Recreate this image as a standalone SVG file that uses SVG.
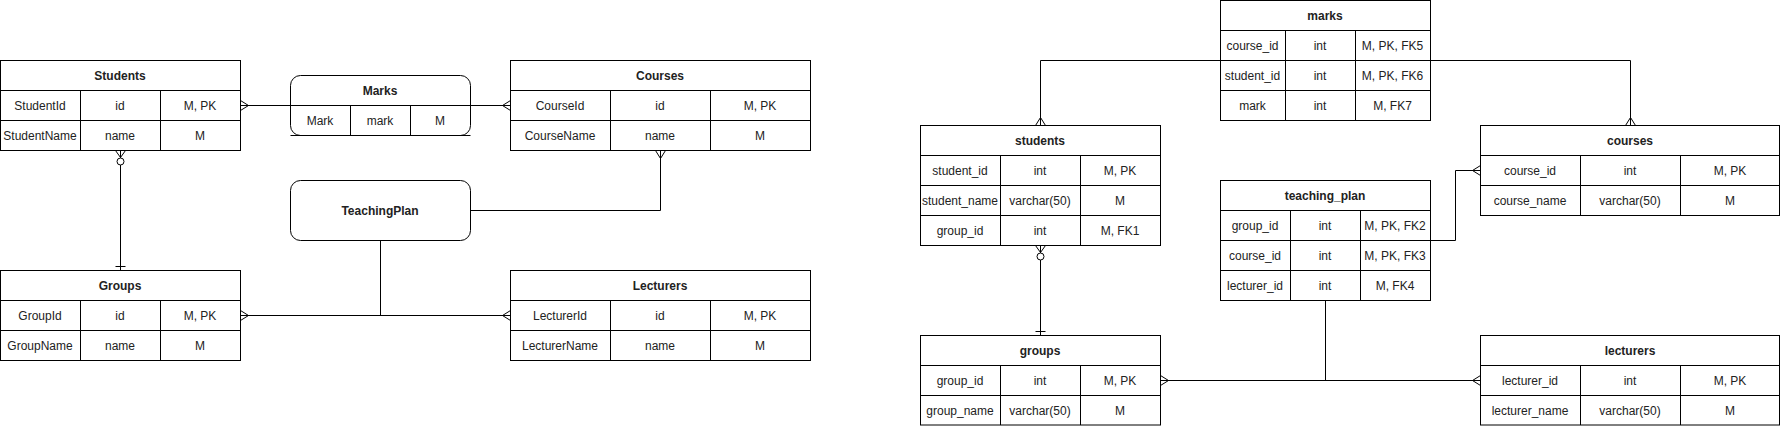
<svg xmlns="http://www.w3.org/2000/svg" width="1781" height="426" viewBox="0 0 1781 426">
<style>
.box{fill:#fff;stroke:#000;stroke-width:1}
.ln{fill:none;stroke:#000;stroke-width:1}
.t{font-family:"Liberation Sans",Arial,sans-serif;font-size:12px;fill:#222;text-anchor:middle}
.h{font-weight:bold}
.c{fill:#fff;stroke:#000;stroke-width:1}
</style>
<rect width="1781" height="426" fill="#fff"/>

<g id="connectors">
  <path class="ln" d="M240.5,105.5 H290.5"/>
  <path class="ln" d="M240.5,100.5 L248.5,105.5 L240.5,110.5"/>
  <path class="ln" d="M470.5,105.5 H510.5"/>
  <path class="ln" d="M510.5,100.5 L502.5,105.5 L510.5,110.5"/>
  <path class="ln" d="M470.5,210.5 H660.5 V150.5"/>
  <path class="ln" d="M655.5,150.5 L660.5,158.5 L665.5,150.5"/>
  <path class="ln" d="M120.5,150.5 V270.5"/>
  <path class="ln" d="M115.5,150.5 L120.5,157.5 L125.5,150.5"/>
  <circle class="c" cx="120.5" cy="161.5" r="3.5"/>
  <path class="ln" d="M115.5,266.5 H125.5"/>
  <path class="ln" d="M240.5,315.5 H510.5"/>
  <path class="ln" d="M240.5,310.5 L248.5,315.5 L240.5,320.5"/>
  <path class="ln" d="M510.5,310.5 L502.5,315.5 L510.5,320.5"/>
  <path class="ln" d="M380.5,240.5 V315.5"/>
  <path class="ln" d="M1220.5,60.5 H1040.5 V125.5"/>
  <path class="ln" d="M1035.5,125.5 L1040.5,117.5 L1045.5,125.5"/>
  <path class="ln" d="M1430.5,60.5 H1630.5 V125.5"/>
  <path class="ln" d="M1625.5,125.5 L1630.5,117.5 L1635.5,125.5"/>
  <path class="ln" d="M1430.5,240.5 H1455.5 V170.5 H1480.5"/>
  <path class="ln" d="M1480.5,165.5 L1472.5,170.5 L1480.5,175.5"/>
  <path class="ln" d="M1040.5,245.5 V335.5"/>
  <path class="ln" d="M1035.5,245.5 L1040.5,252.5 L1045.5,245.5"/>
  <circle class="c" cx="1040.5" cy="256.5" r="3.5"/>
  <path class="ln" d="M1035.5,331.5 H1045.5"/>
  <path class="ln" d="M1160.5,380.5 H1480.5"/>
  <path class="ln" d="M1160.5,375.5 L1168.5,380.5 L1160.5,385.5"/>
  <path class="ln" d="M1480.5,375.5 L1472.5,380.5 L1480.5,385.5"/>
  <path class="ln" d="M1325.5,300.5 V380.5"/>
</g>

<g id="Students">
  <rect class="box" x="0.5" y="60.5" width="240" height="90"/>
  <path class="ln" d="M0.5,90.5 H240.5 M0.5,120.5 H240.5 M80.5,90.5 V150.5 M160.5,90.5 V150.5"/>
  <text class="t h" x="120" y="80">Students</text>
  <text class="t" x="40" y="110">StudentId</text>
  <text class="t" x="120" y="110">id</text>
  <text class="t" x="200" y="110">M, PK</text>
  <text class="t" x="40" y="140">StudentName</text>
  <text class="t" x="120" y="140">name</text>
  <text class="t" x="200" y="140">M</text>
</g>

<g id="Marks">
  <rect class="box" x="290.5" y="75.5" width="180" height="60" rx="10" ry="10"/>
  <path class="ln" d="M290.5,105.5 H470.5 M290.5,135.5 H470.5 M350.5,105.5 V135.5 M410.5,105.5 V135.5"/>
  <text class="t h" x="380" y="95">Marks</text>
  <text class="t" x="320" y="125">Mark</text>
  <text class="t" x="380" y="125">mark</text>
  <text class="t" x="440" y="125">M</text>
</g>

<g id="Courses">
  <rect class="box" x="510.5" y="60.5" width="300" height="90"/>
  <path class="ln" d="M510.5,90.5 H810.5 M510.5,120.5 H810.5 M610.5,90.5 V150.5 M710.5,90.5 V150.5"/>
  <text class="t h" x="660" y="80">Courses</text>
  <text class="t" x="560" y="110">CourseId</text>
  <text class="t" x="660" y="110">id</text>
  <text class="t" x="760" y="110">M, PK</text>
  <text class="t" x="560" y="140">CourseName</text>
  <text class="t" x="660" y="140">name</text>
  <text class="t" x="760" y="140">M</text>
</g>

<g id="TeachingPlan">
  <rect class="box" x="290.5" y="180.5" width="180" height="60" rx="10" ry="10"/>
  <text class="t h" x="380" y="215">TeachingPlan</text>
</g>

<g id="Groups">
  <rect class="box" x="0.5" y="270.5" width="240" height="90"/>
  <path class="ln" d="M0.5,300.5 H240.5 M0.5,330.5 H240.5 M80.5,300.5 V360.5 M160.5,300.5 V360.5"/>
  <text class="t h" x="120" y="290">Groups</text>
  <text class="t" x="40" y="320">GroupId</text>
  <text class="t" x="120" y="320">id</text>
  <text class="t" x="200" y="320">M, PK</text>
  <text class="t" x="40" y="350">GroupName</text>
  <text class="t" x="120" y="350">name</text>
  <text class="t" x="200" y="350">M</text>
</g>

<g id="Lecturers">
  <rect class="box" x="510.5" y="270.5" width="300" height="90"/>
  <path class="ln" d="M510.5,300.5 H810.5 M510.5,330.5 H810.5 M610.5,300.5 V360.5 M710.5,300.5 V360.5"/>
  <text class="t h" x="660" y="290">Lecturers</text>
  <text class="t" x="560" y="320">LecturerId</text>
  <text class="t" x="660" y="320">id</text>
  <text class="t" x="760" y="320">M, PK</text>
  <text class="t" x="560" y="350">LecturerName</text>
  <text class="t" x="660" y="350">name</text>
  <text class="t" x="760" y="350">M</text>
</g>

<g id="marks">
  <rect class="box" x="1220.5" y="0.5" width="210" height="120"/>
  <path class="ln" d="M1220.5,30.5 H1430.5 M1220.5,60.5 H1430.5 M1220.5,90.5 H1430.5 M1285.5,30.5 V120.5 M1355.5,30.5 V120.5"/>
  <text class="t h" x="1325" y="20">marks</text>
  <text class="t" x="1252.5" y="50">course_id</text>
  <text class="t" x="1320" y="50">int</text>
  <text class="t" x="1392.5" y="50">M, PK, FK5</text>
  <text class="t" x="1252.5" y="80">student_id</text>
  <text class="t" x="1320" y="80">int</text>
  <text class="t" x="1392.5" y="80">M, PK, FK6</text>
  <text class="t" x="1252.5" y="110">mark</text>
  <text class="t" x="1320" y="110">int</text>
  <text class="t" x="1392.5" y="110">M, FK7</text>
</g>

<g id="students">
  <rect class="box" x="920.5" y="125.5" width="240" height="120"/>
  <path class="ln" d="M920.5,155.5 H1160.5 M920.5,185.5 H1160.5 M920.5,215.5 H1160.5 M1000.5,155.5 V245.5 M1080.5,155.5 V245.5"/>
  <text class="t h" x="1040" y="145">students</text>
  <text class="t" x="960" y="175">student_id</text>
  <text class="t" x="1040" y="175">int</text>
  <text class="t" x="1120" y="175">M, PK</text>
  <text class="t" x="960" y="205">student_name</text>
  <text class="t" x="1040" y="205">varchar(50)</text>
  <text class="t" x="1120" y="205">M</text>
  <text class="t" x="960" y="235">group_id</text>
  <text class="t" x="1040" y="235">int</text>
  <text class="t" x="1120" y="235">M, FK1</text>
</g>

<g id="courses">
  <rect class="box" x="1480.5" y="125.5" width="299" height="90"/>
  <path class="ln" d="M1480.5,155.5 H1779.5 M1480.5,185.5 H1779.5 M1580.5,155.5 V215.5 M1680.5,155.5 V215.5"/>
  <text class="t h" x="1630" y="145">courses</text>
  <text class="t" x="1530" y="175">course_id</text>
  <text class="t" x="1630" y="175">int</text>
  <text class="t" x="1730" y="175">M, PK</text>
  <text class="t" x="1530" y="205">course_name</text>
  <text class="t" x="1630" y="205">varchar(50)</text>
  <text class="t" x="1730" y="205">M</text>
</g>

<g id="teaching_plan">
  <rect class="box" x="1220.5" y="180.5" width="210" height="120"/>
  <path class="ln" d="M1220.5,210.5 H1430.5 M1220.5,240.5 H1430.5 M1220.5,270.5 H1430.5 M1290.5,210.5 V300.5 M1360.5,210.5 V300.5"/>
  <text class="t h" x="1325" y="200">teaching_plan</text>
  <text class="t" x="1255" y="230">group_id</text>
  <text class="t" x="1325" y="230">int</text>
  <text class="t" x="1395" y="230">M, PK, FK2</text>
  <text class="t" x="1255" y="260">course_id</text>
  <text class="t" x="1325" y="260">int</text>
  <text class="t" x="1395" y="260">M, PK, FK3</text>
  <text class="t" x="1255" y="290">lecturer_id</text>
  <text class="t" x="1325" y="290">int</text>
  <text class="t" x="1395" y="290">M, FK4</text>
</g>

<g id="groups">
  <rect class="box" x="920.5" y="335.5" width="240" height="89.5"/>
  <path class="ln" d="M920.5,365.5 H1160.5 M920.5,395.5 H1160.5 M1000.5,365.5 V425 M1080.5,365.5 V425"/>
  <text class="t h" x="1040" y="355">groups</text>
  <text class="t" x="960" y="385">group_id</text>
  <text class="t" x="1040" y="385">int</text>
  <text class="t" x="1120" y="385">M, PK</text>
  <text class="t" x="960" y="415">group_name</text>
  <text class="t" x="1040" y="415">varchar(50)</text>
  <text class="t" x="1120" y="415">M</text>
</g>

<g id="lecturers">
  <rect class="box" x="1480.5" y="335.5" width="299" height="89.5"/>
  <path class="ln" d="M1480.5,365.5 H1779.5 M1480.5,395.5 H1779.5 M1580.5,365.5 V425 M1680.5,365.5 V425"/>
  <text class="t h" x="1630" y="355">lecturers</text>
  <text class="t" x="1530" y="385">lecturer_id</text>
  <text class="t" x="1630" y="385">int</text>
  <text class="t" x="1730" y="385">M, PK</text>
  <text class="t" x="1530" y="415">lecturer_name</text>
  <text class="t" x="1630" y="415">varchar(50)</text>
  <text class="t" x="1730" y="415">M</text>
</g>
</svg>
